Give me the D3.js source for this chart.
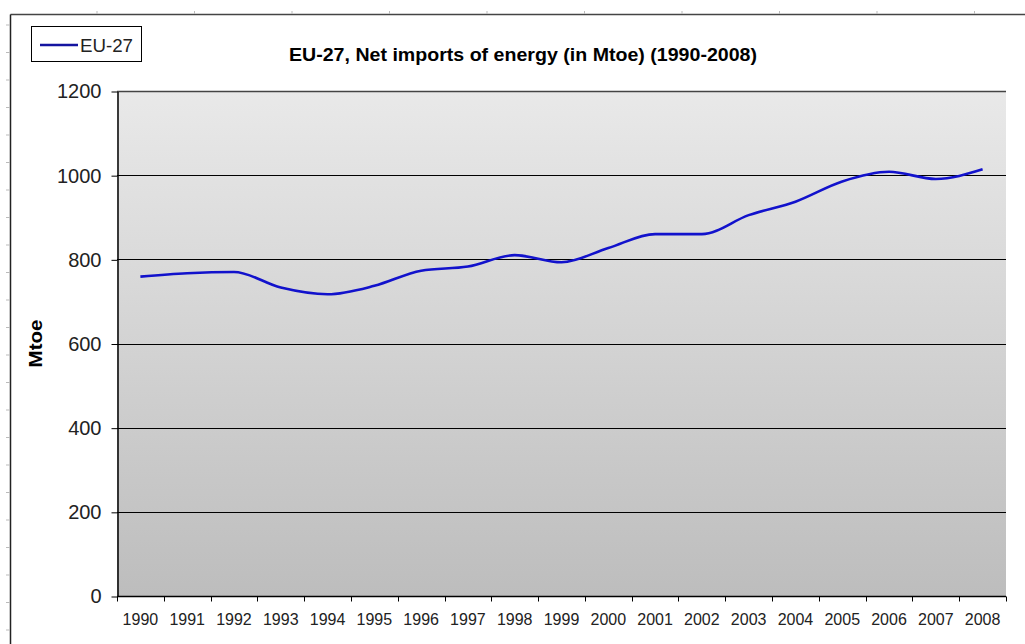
<!DOCTYPE html>
<html>
<head>
<meta charset="utf-8">
<script src="https://cdn.jsdelivr.net/npm/d3@7"></script>
<style>
  body { margin: 0; background: #fff; }
  svg { display: block; font-family: Arial, "Liberation Sans", sans-serif; }
</style>
</head>
<body>
<div id="chart"></div>
<script>
// data
var years = ["1990","1991","1992","1993","1994","1995","1996","1997","1998","1999",
             "2000","2001","2002","2003","2004","2005","2006","2007","2008"];
var netImports = [759, 767, 770, 733, 717, 737, 773, 783, 810, 793,
                  827, 860, 860, 905, 937, 985, 1008, 991, 1014];
var yTicks = [0, 200, 400, 600, 800, 1000, 1200];
var seriesName = "EU-27";

var width = 1025, height = 644;
var margin = {top: 91, right: 19, bottom: 48, left: 117};

var svg = d3.select("#chart").append("svg")
    .attr("width", width)
    .attr("height", height);

// outer frame (top and left edge of the embedded object)
svg.append("line").attr("x1", 10.5).attr("x2", width).attr("y1", 14.5).attr("y2", 14.5)
    .attr("stroke", "#444").attr("stroke-width", 1.5);
svg.append("line").attr("x1", 10.5).attr("x2", 10.5).attr("y1", 14.5).attr("y2", height)
    .attr("stroke", "#222").attr("stroke-width", 1.5);
svg.selectAll(".rulerx").data(d3.range(97, width, 97.5)).enter().append("line")
    .attr("x1", function(d){ return d; }).attr("x2", function(d){ return d; })
    .attr("y1", 11).attr("y2", 14).attr("stroke", "#bbb");
svg.selectAll(".rulery").data(d3.range(25, height, 27.5)).enter().append("line")
    .attr("x1", 6).attr("x2", 10).attr("y1", function(d){ return d; }).attr("y2", function(d){ return d; })
    .attr("stroke", "#bbb");

var x = d3.scaleBand().domain(years)
    .range([margin.left, width - margin.right]);
var y = d3.scaleLinear().domain([0, 1200])
    .range([height - margin.bottom, margin.top]);

// plot background gradient
var grad = svg.append("defs").append("linearGradient")
    .attr("id", "bg").attr("x1", 0).attr("x2", 0).attr("y1", 0).attr("y2", 1);
grad.append("stop").attr("offset", "0%").attr("stop-color", "#e9e9e9");
grad.append("stop").attr("offset", "100%").attr("stop-color", "#bdbdbd");

svg.append("rect")
    .attr("x", margin.left)
    .attr("y", margin.top)
    .attr("width", width - margin.left - margin.right)
    .attr("height", height - margin.top - margin.bottom)
    .attr("fill", "url(#bg)");

// gridlines
svg.append("g").selectAll("line")
    .data(yTicks.slice(1))
    .enter().append("line")
    .attr("x1", margin.left)
    .attr("x2", width - margin.right)
    .attr("y1", function(d){ return Math.round(y(d)) + 0.5; })
    .attr("y2", function(d){ return Math.round(y(d)) + 0.5; })
    .attr("stroke", function(d){ return d === 1200 ? "#444" : "#000"; })
    .attr("stroke-width", function(d){ return d === 1200 ? 1.5 : 1; });

// y axis
var yAxis = svg.append("g")
    .attr("transform", "translate(" + (margin.left + 0.5) + ",0.5)")
    .call(d3.axisLeft(y).tickValues(yTicks).tickFormat(d3.format("d"))
        .tickSize(6).tickSizeOuter(0).tickPadding(10));
yAxis.selectAll("text").attr("font-size", "20px").attr("fill", "#222");
yAxis.selectAll("line, path").attr("stroke", "#000");
yAxis.select(".domain").attr("stroke-width", 1.5);

// x axis: ticks on category boundaries
var xAxis = svg.append("g")
    .attr("transform", "translate(0," + (height - margin.bottom + 0.5) + ")");
xAxis.append("line")
    .attr("x1", margin.left).attr("x2", width - margin.right)
    .attr("stroke", "#000").attr("stroke-width", 1.5);
xAxis.selectAll(".tick")
    .data(years.concat(["end"]))
    .enter().append("line")
    .attr("x1", function(d, i){ return Math.round(x.range()[0] + i * x.step()) + 0.5; })
    .attr("x2", function(d, i){ return Math.round(x.range()[0] + i * x.step()) + 0.5; })
    .attr("y1", 0).attr("y2", 5)
    .attr("stroke", "#000");
xAxis.selectAll("text")
    .data(years)
    .enter().append("text")
    .attr("x", function(d){ return x(d) + x.bandwidth() / 2; })
    .attr("y", 28)
    .attr("text-anchor", "middle")
    .attr("font-size", "16px")
    .attr("fill", "#222")
    .text(function(d){ return d; });

// y axis title
svg.append("text")
    .attr("transform", "translate(42," + y(600) + ") rotate(-90)")
    .attr("text-anchor", "middle")
    .attr("font-weight", "bold")
    .attr("font-size", "18px")
    .attr("textLength", 48)
    .attr("lengthAdjust", "spacingAndGlyphs")
    .text("Mtoe");

// line
var line = d3.line()
    .x(function(d, i){ return x(years[i]) + x.bandwidth() / 2; })
    .y(function(d){ return y(d); })
    .curve(d3.curveMonotoneX);

svg.append("path")
    .datum(netImports)
    .attr("d", line)
    .attr("fill", "none")
    .attr("stroke", "#1212cc")
    .attr("stroke-width", 2.6);

// title
svg.append("text")
    .attr("x", 289)
    .attr("y", 61)
    .attr("font-weight", "bold")
    .attr("font-size", "18px")
    .attr("textLength", 468)
    .attr("lengthAdjust", "spacingAndGlyphs")
    .text("EU-27, Net imports of energy (in Mtoe) (1990-2008)");

// legend
var legend = svg.append("g");
legend.append("rect")
    .attr("x", 31.5).attr("y", 26.5)
    .attr("width", 110).attr("height", 35)
    .attr("fill", "#fff").attr("stroke", "#000");
legend.append("line")
    .attr("x1", 40).attr("x2", 78).attr("y1", 45).attr("y2", 45)
    .attr("stroke", "#1414a0").attr("stroke-width", 2.6);
legend.append("text")
    .attr("x", 80).attr("y", 52)
    .attr("font-size", "18px")
    .attr("fill", "#222")
    .attr("textLength", 53)
    .attr("lengthAdjust", "spacingAndGlyphs")
    .text(seriesName);
</script>
</body>
</html>
